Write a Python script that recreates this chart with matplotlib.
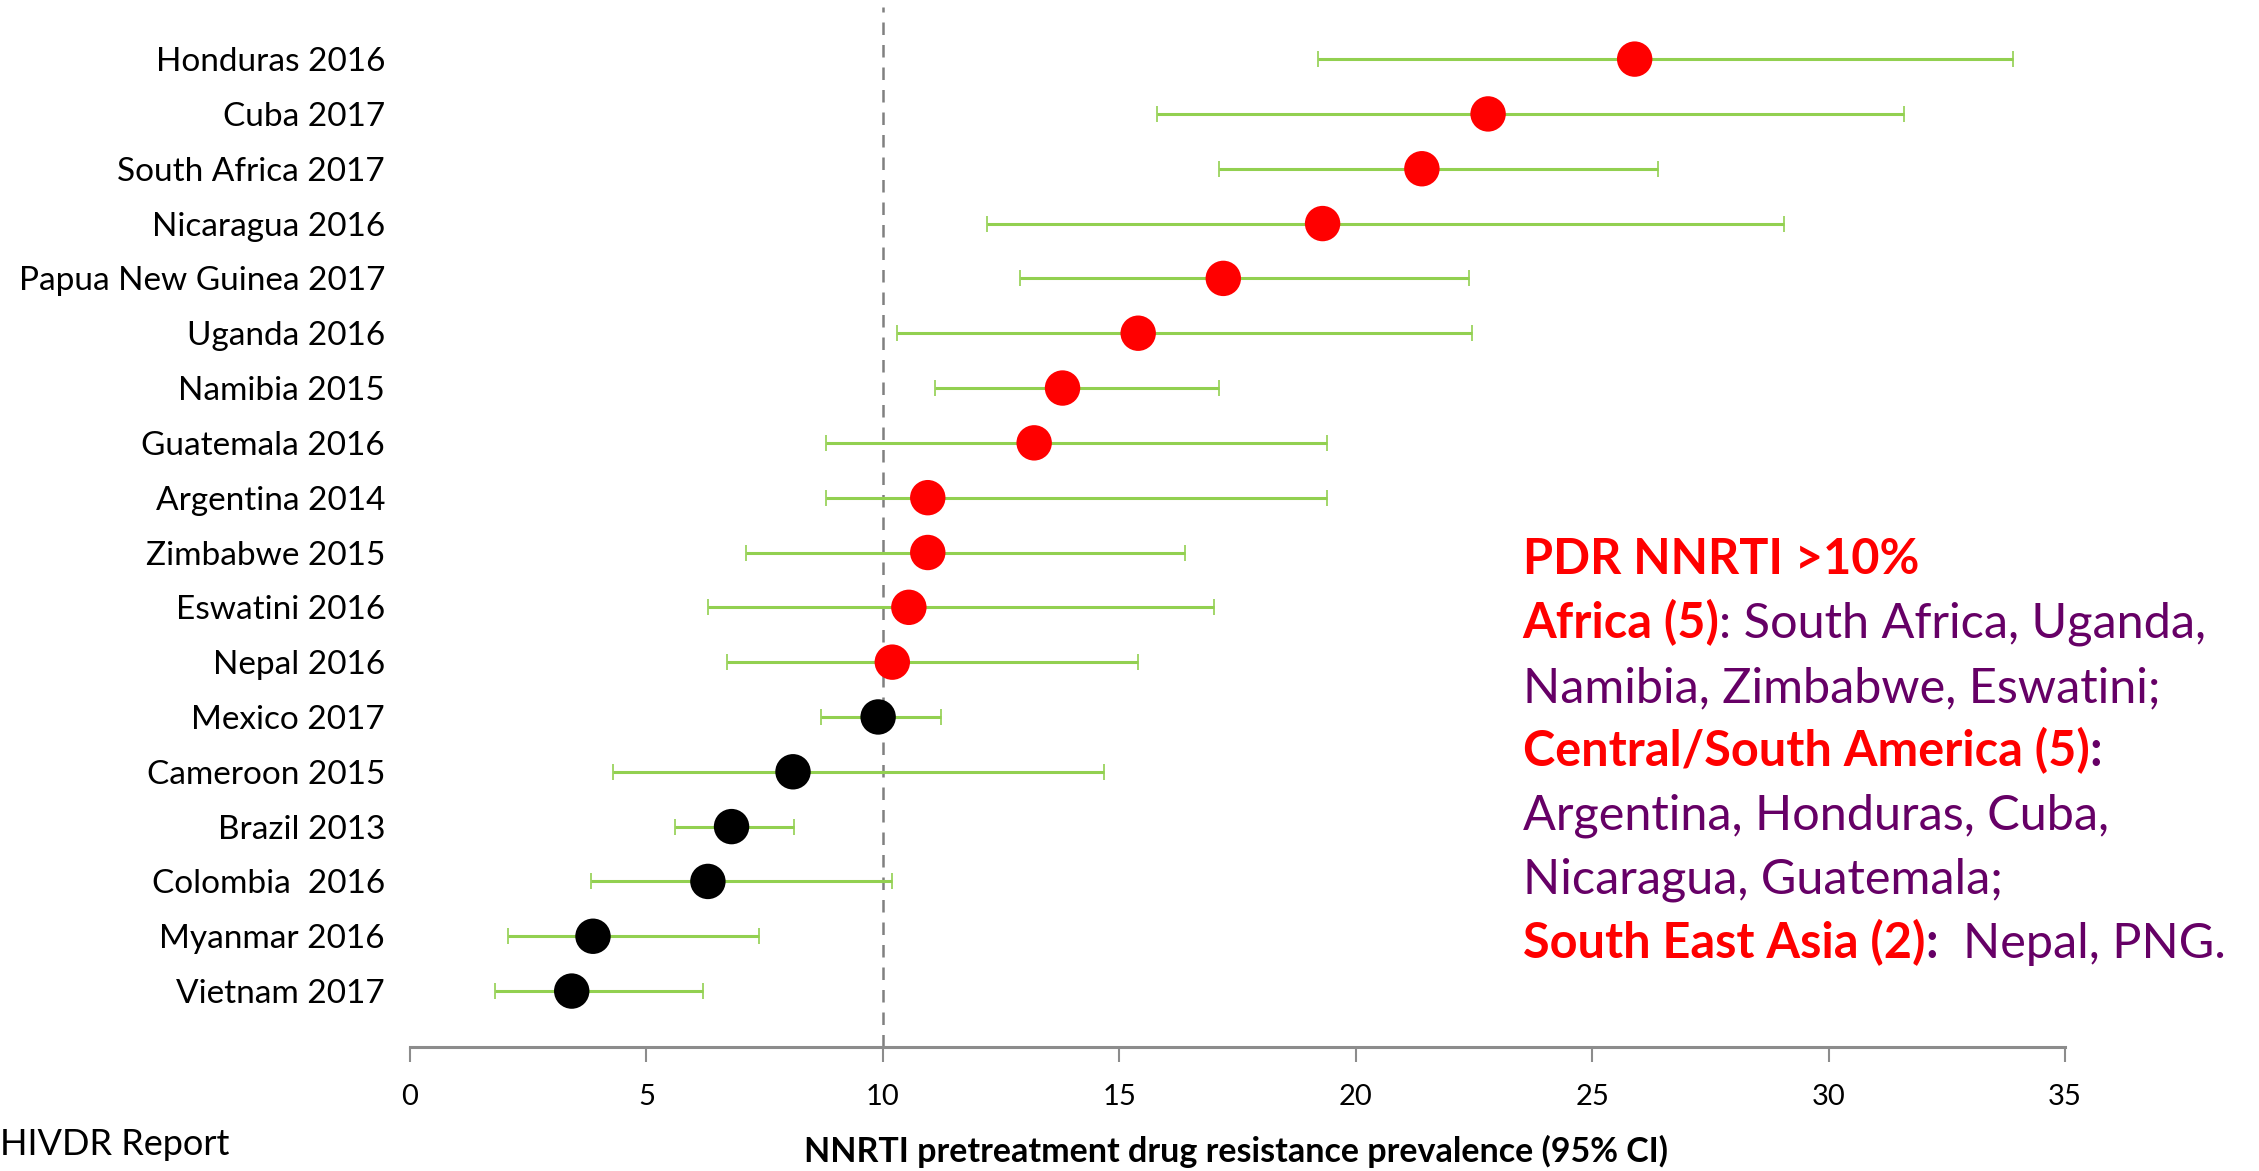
import matplotlib
matplotlib.use("Agg")
import matplotlib.pyplot as plt

plt.rcParams['font.family'] = ['Lato', 'DejaVu Sans']

# survey labels, top to bottom
labels = ["Honduras 2016", "Cuba 2017", "South Africa 2017", "Nicaragua 2016",
          "Papua New Guinea 2017", "Uganda 2016", "Namibia 2015", "Guatemala 2016",
          "Argentina 2014", "Zimbabwe 2015", "Eswatini 2016", "Nepal 2016",
          "Mexico 2017", "Cameroon 2015", "Brazil 2013", "Colombia  2016",
          "Myanmar 2016", "Vietnam 2017"]
prevalence = [25.9, 22.8, 21.4, 19.3, 17.2, 15.4, 13.8, 13.2, 10.95, 10.95,
              10.55, 10.2, 9.9, 8.1, 6.8, 6.3, 3.87, 3.42]
ci_low = [19.2, 15.8, 17.1, 12.2, 12.9, 10.3, 11.1, 8.8, 8.8, 7.1,
          6.3, 6.7, 8.7, 4.3, 5.6, 3.83, 2.08, 1.8]
ci_high = [33.9, 31.6, 26.4, 29.05, 22.4, 22.45, 17.1, 19.4, 19.4, 16.4,
           17.0, 15.4, 11.24, 14.67, 8.12, 10.2, 7.38, 6.2]
threshold = 10

RED = '#FF0000'
PURPLE = '#660066'
GREEN = '#92D050'

n = len(labels)
ypos = [n - 1 - i for i in range(n)]
colors = [RED if v > threshold else 'black' for v in prevalence]

fig = plt.figure(figsize=(22.59, 11.71), dpi=100)
ax = fig.add_axes([0.1815, 0.1059, 0.7326, 0.8881])

err = [[p - lo for p, lo in zip(prevalence, ci_low)],
       [hi - p for p, hi in zip(prevalence, ci_high)]]
ax.errorbar(prevalence, ypos, xerr=err, fmt='none', ecolor=GREEN,
            elinewidth=2.2, capsize=6, capthick=1.2, zorder=2)
ax.scatter(prevalence, ypos, s=650, c=colors, zorder=3, linewidths=0)
ax.axvline(threshold, color='#808080', linestyle=(0, (5, 4)), linewidth=1.8, zorder=1)

ax.set_xlim(0, 35)
ax.set_ylim(-1.02, n - 0.05)
ax.set_xticks(range(0, 36, 5))
ax.set_yticks(ypos)
ax.set_yticklabels(labels, fontsize=24)
ax.tick_params(axis='y', length=0, pad=18)
ax.tick_params(axis='x', direction='out', length=11, width=1.5, color='#8c8c8c',
               labelsize=21, pad=16)
for s in ['top', 'right', 'left']:
    ax.spines[s].set_visible(False)
ax.spines['bottom'].set_color('#8c8c8c')
ax.spines['bottom'].set_linewidth(2.2)

fig.text(0.547, 0.008, "NNRTI pretreatment drug resistance prevalence (95% CI)",
         ha='center', va='baseline', fontsize=24.5, fontweight='bold')
fig.text(0.0, 0.014, "HIVDR Report", ha='left', va='baseline', fontsize=26)

# annotation block with mixed colours on each line
lines = [
    [("PDR NNRTI >10%", RED, 'bold')],
    [("Africa (5)", RED, 'bold'), (": South Africa, Uganda,", PURPLE, 'normal')],
    [("Namibia, Zimbabwe, Eswatini;", PURPLE, 'normal')],
    [("Central/South America (5)", RED, 'bold'), (":", PURPLE, 'bold')],
    [("Argentina, Honduras, Cuba,", PURPLE, 'normal')],
    [("Nicaragua, Guatemala;", PURPLE, 'normal')],
    [("South East Asia (2)", RED, 'bold'), (":", PURPLE, 'bold'),
     ("  Nepal, PNG.", PURPLE, 'normal')],
]
x0 = 0.674
y0 = 1 - 582 / 1171
dy = 64 / 1171
fs = 35
for i, parts in enumerate(lines):
    prev = None
    for txt, col, wt in parts:
        if prev is None:
            prev = fig.text(x0, y0 - i * dy, txt, color=col, fontweight=wt,
                            fontsize=fs, ha='left', va='bottom')
        else:
            prev = fig.add_artist(matplotlib.text.Annotation(
                txt, xy=(1, 0), xycoords=prev, color=col, fontweight=wt,
                fontsize=fs, ha='left', va='bottom'))

fig.savefig("out.png", dpi=100)
